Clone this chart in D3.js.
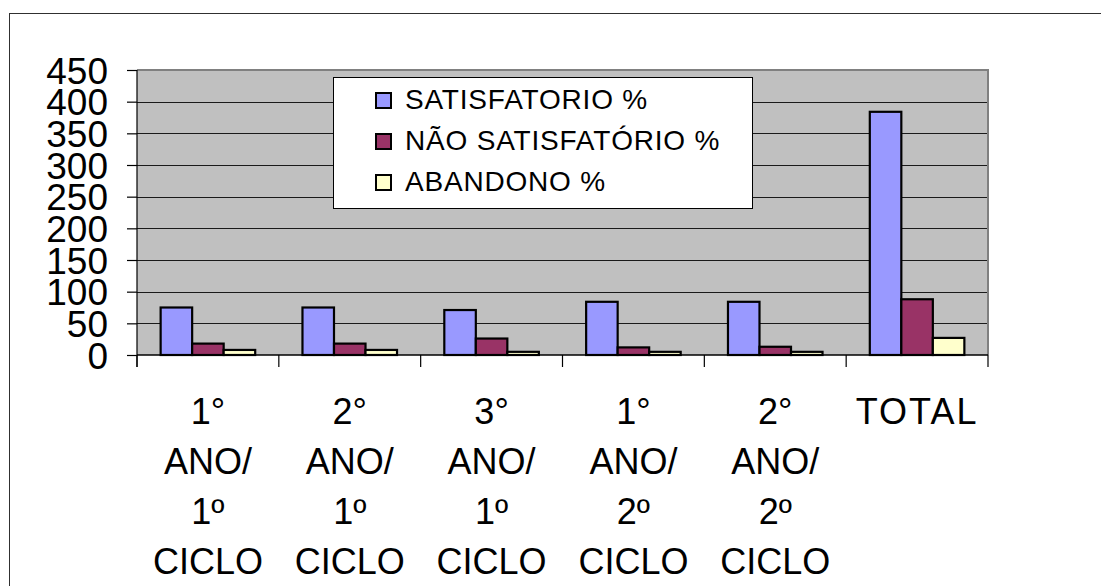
<!DOCTYPE html>
<html>
<head>
<meta charset="utf-8">
<script src="https://cdn.jsdelivr.net/npm/d3@7"></script>
<style>
  html, body { margin: 0; padding: 0; background: #fff; }
  svg { display: block; font-family: "Liberation Sans", Arial, sans-serif; }
</style>
</head>
<body>
<svg id="chart" width="1101" height="586"></svg>
<script>
// Categories (school year / cycle) and the three result series, in percent
const categories = [
  ["1°", "ANO/", "1º", "CICLO"],
  ["2°", "ANO/", "1º", "CICLO"],
  ["3°", "ANO/", "1º", "CICLO"],
  ["1°", "ANO/", "2º", "CICLO"],
  ["2°", "ANO/", "2º", "CICLO"],
  ["TOTAL"]
];
const seriesNames = ["SATISFATORIO %", "NÃO SATISFATÓRIO %", "ABANDONO %"];
const satisfatorio = [75, 75, 71, 84, 84, 384];
const naoSatisfatorio = [18, 18, 26, 12, 13, 88];
const abandono = [8, 8, 5, 5, 5, 27];
const yTicks = [0, 50, 100, 150, 200, 250, 300, 350, 400, 450];
const colors = ["#9999FF", "#993366", "#FFFFCC"];

const seriesValues = [satisfatorio, naoSatisfatorio, abandono];
const catKeys = categories.map((c, i) => i);

const svg = d3.select("#chart");

// outer chart frame (runs past the right and bottom edges)
svg.append("rect")
  .attr("x", 9.5).attr("y", 13.5)
  .attr("width", 1200).attr("height", 700)
  .attr("fill", "#fff").attr("stroke", "#303030").attr("stroke-width", 1);

const plot = { left: 137, right: 988, top: 70, bottom: 355 };

const x = d3.scaleBand().domain(catKeys).range([plot.left, plot.right]).padding(0);
const x1 = d3.scaleBand().domain(d3.range(seriesNames.length))
  .range([0, x.bandwidth()]).paddingInner(0).paddingOuter(0.75);
const y = d3.scaleLinear().domain([0, 450]).range([plot.bottom, plot.top]);

// plot area background
svg.append("rect")
  .attr("x", plot.left).attr("y", plot.top)
  .attr("width", plot.right - plot.left).attr("height", plot.bottom - plot.top)
  .attr("fill", "#C0C0C0");

// horizontal gridlines
svg.append("g")
  .selectAll("line")
  .data(yTicks.filter(t => t > 0 && t < 450))
  .join("line")
  .attr("x1", plot.left).attr("x2", plot.right)
  .attr("y1", d => Math.round(y(d)) + 0.5).attr("y2", d => Math.round(y(d)) + 0.5)
  .attr("stroke", "#1a1a1a").attr("stroke-width", 1);

// plot area border on top and right
svg.append("path")
  .attr("d", `M${plot.left},${plot.top} H${plot.right} V${plot.bottom}`)
  .attr("fill", "none").attr("stroke", "#808080").attr("stroke-width", 2);

// bars
const groups = svg.append("g")
  .selectAll("g")
  .data(catKeys)
  .join("g")
  .attr("transform", d => `translate(${x(d)},0)`);

groups.selectAll("rect")
  .data(ci => seriesValues.map((vals, si) => ({ si, v: vals[ci] })))
  .join("rect")
  .attr("x", d => x1(d.si))
  .attr("width", x1.bandwidth())
  .attr("y", d => y(d.v))
  .attr("height", d => y(0) - y(d.v))
  .attr("fill", d => colors[d.si])
  .attr("stroke", "#000")
  .attr("stroke-width", 2.2);

// y axis
const yAxis = d3.axisLeft(y).tickValues(yTicks).tickSize(10).tickSizeOuter(0).tickPadding(19);
const gy = svg.append("g").attr("transform", `translate(${plot.left},0)`).call(yAxis);
gy.select(".domain").remove();
gy.selectAll(".tick line").attr("stroke", "#000").attr("stroke-width", 1.2);
gy.selectAll(".tick text")
  .attr("font-size", 37).attr("font-family", "Liberation Sans, Arial, sans-serif")
  .attr("fill", "#000").attr("dy", "0.36em");
svg.append("line")
  .attr("x1", plot.left).attr("x2", plot.left)
  .attr("y1", plot.top).attr("y2", plot.bottom + 12)
  .attr("stroke", "#000").attr("stroke-width", 1.2);

// x axis line and category separators
svg.append("line")
  .attr("x1", plot.left).attr("x2", plot.right)
  .attr("y1", plot.bottom).attr("y2", plot.bottom)
  .attr("stroke", "#000").attr("stroke-width", 1.5);
const boundaries = catKeys.map(k => x(k)).concat([x(catKeys[catKeys.length - 1]) + x.bandwidth()]);
svg.append("g").selectAll("line")
  .data(boundaries)
  .join("line")
  .attr("x1", d => d).attr("x2", d => d)
  .attr("y1", plot.bottom).attr("y2", plot.bottom + 12)
  .attr("stroke", "#000").attr("stroke-width", 1.2);

// category labels, one line per text row
const labels = svg.append("g")
  .attr("font-size", 36).attr("fill", "#000").attr("text-anchor", "middle");
categories.forEach((lines, i) => {
  const t = labels.append("text")
    .attr("x", x(i) + x.bandwidth() / 2)
    .attr("y", 424);
  lines.forEach((ln, j) => {
    t.append("tspan")
      .attr("x", x(i) + x.bandwidth() / 2)
      .attr("y", 424 + j * 50)
      .attr("letter-spacing", ln === "TOTAL" ? 2 : 0)
      .text(ln);
  });
});

// legend
const legend = svg.append("g");
legend.append("rect")
  .attr("x", 333.5).attr("y", 77.5).attr("width", 419).attr("height", 131)
  .attr("fill", "#fff").attr("stroke", "#000").attr("stroke-width", 1);
const rowY = [100.5, 141.5, 182.5];
seriesNames.forEach((name, i) => {
  legend.append("rect")
    .attr("x", 376).attr("y", rowY[i] - 7.5).attr("width", 15).attr("height", 15)
    .attr("fill", colors[i]).attr("stroke", "#000").attr("stroke-width", 2);
  legend.append("text")
    .attr("x", 405).attr("y", rowY[i] + 8)
    .attr("font-size", 28).attr("letter-spacing", 0.8).attr("fill", "#000")
    .text(name);
});
</script>
</body>
</html>
